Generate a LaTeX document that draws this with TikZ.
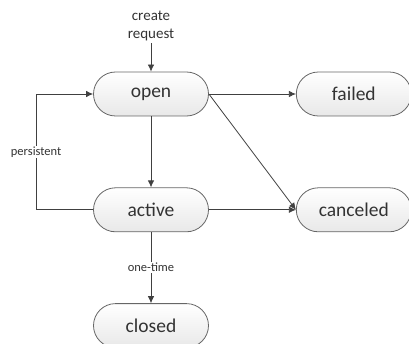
\documentclass[tikz,border=0pt]{standalone}
\usepackage{fontspec}
\setmainfont{Carlito}
\usetikzlibrary{positioning,arrows.meta}

\tikzset{
  state/.style={draw=black!60, line width=0.8pt, rounded corners=22pt,
    top color=white, bottom color=black!9, minimum width=115pt,
    minimum height=44pt, inner sep=0, font=\fontsize{19.5}{22}\selectfont, text=black!80},
  arr/.style={draw=black!75, line width=0.8pt, -{Latex[length=7pt,width=6.5pt]}},
  lbl/.style={fill=white, inner sep=1pt, font=\fontsize{12.5}{14}\selectfont, text=black!80}
}

\begin{document}
\begin{tikzpicture}[node distance=71pt and 87pt]

    \useasboundingbox (0,0) rectangle (409pt,343pt);

    \node (open) [state] at (151pt,249pt) {open};
    \node (failed) [state, right=of open] {failed};
    \node (active) [state, below=of open] {active};
    \node (canceled) [state, right=of active] {canceled};
    \node (closed) [state, below=of active] {closed};

    \node (req) [align=center, inner sep=0, font=\fontsize{15}{18}\selectfont, text=black!80]
        at (151pt,317pt) {create\\request};

    \draw[arr] (req.south) ++(0,-2pt) -- (open.north);
    \draw[arr] (open) -- (failed);
    \draw[arr] (open) -- (active);
    \draw[arr] (open.east) -- (canceled.west);
    \draw[arr] (active) -- (canceled);
    \draw[arr] (active) -- node[lbl] {one-time} (closed);
    \draw[arr] (active.west) -- ++(-57pt,0) |- node[lbl, pos=0.25] {persistent} (open.west);

\end{tikzpicture}
\end{document}
